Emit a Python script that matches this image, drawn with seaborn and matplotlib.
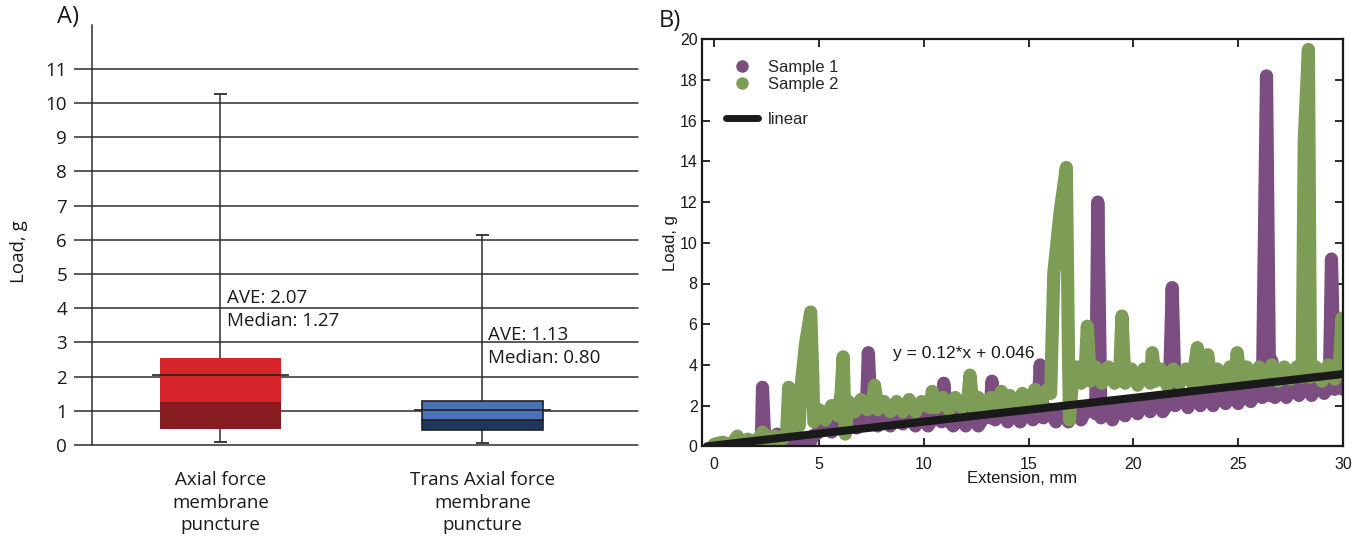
import matplotlib
matplotlib.use("Agg")
import matplotlib.pyplot as plt
import seaborn as sns
import pandas as pd
import numpy as np
from matplotlib.lines import Line2D

# ---------------- Panel A data ----------------
groups = ["Axial force\nmembrane\npuncture", "Trans Axial force\nmembrane\npuncture"]
q1 = [0.47, 0.44]
median = [1.25, 0.74]
q3 = [2.55, 1.28]
whisker_low = [0.10, 0.07]
whisker_high = [10.27, 6.13]
mean_line = [2.05, 1.02]
annotations = ["AVE: 2.07\nMedian: 1.27", "AVE: 1.13\nMedian: 0.80"]
upper_colors = ["#D6242A", "#4A72B9"]
lower_colors = ["#861C1F", "#1E3660"]
yticks_a = list(range(0, 12))

# ---------------- Panel B data ----------------
sample1 = [(0.0, 0.05), (0.4, 0.15), (0.8, 0.05), (1.2, 0.2), (1.6, 0.1), (2.0, 0.3), (2.25, 0.3),
           (2.3, 2.9), (2.4, 0.5), (2.7, 0.3), (3.0, 0.6), (3.3, 0.3), (3.6, 0.5), (3.9, 0.0),
           (4.2, 0.3), (4.5, 0.0), (4.7, 0.5), (5.0, 0.7), (5.3, 1.1), (5.6, 0.7), (5.9, 1.2),
           (6.2, 0.8), (6.5, 1.3), (6.8, 0.9), (7.1, 1.4), (7.25, 1.5), (7.35, 4.6), (7.5, 1.3),
           (7.8, 1.0), (8.1, 1.5), (8.4, 1.0), (8.7, 1.6), (9.0, 1.1), (9.3, 1.5), (9.6, 1.0),
           (9.9, 1.6), (10.2, 1.0), (10.5, 1.5), (10.85, 1.2), (10.95, 3.1), (11.1, 1.4), (11.4, 1.0),
           (11.7, 1.5), (12.0, 1.0), (12.3, 1.6), (12.6, 1.0), (12.9, 1.5), (13.15, 1.4), (13.25, 3.2),
           (13.4, 1.3), (13.7, 1.7), (14.0, 1.2), (14.3, 1.7), (14.6, 1.2), (14.9, 1.8), (15.2, 1.3),
           (15.45, 1.6), (15.55, 4.0), (15.7, 1.4), (16.0, 1.8), (16.3, 1.2), (16.6, 1.8), (16.9, 1.2),
           (17.2, 1.9), (17.5, 1.3), (17.8, 1.9), (18.2, 1.6), (18.3, 12.0), (18.45, 1.4), (18.7, 2.0),
           (19.0, 1.3), (19.3, 2.1), (19.6, 1.5), (19.9, 2.2), (20.2, 1.6), (20.5, 2.3), (20.8, 1.7),
           (21.1, 2.3), (21.4, 1.7), (21.7, 2.2), (21.85, 7.8), (22.0, 2.0), (22.3, 2.6), (22.6, 1.9),
           (22.9, 2.6), (23.2, 2.0), (23.5, 2.7), (23.8, 2.0), (24.1, 2.8), (24.4, 2.1), (24.7, 2.8),
           (25.0, 2.1), (25.3, 2.8), (25.6, 2.2), (25.9, 2.8), (26.15, 2.4), (26.25, 10.3), (26.35, 18.2),
           (26.5, 2.5), (26.6, 4.2), (26.75, 2.4), (27.0, 3.0), (27.3, 2.4), (27.6, 3.0), (27.9, 2.5),
           (28.2, 3.1), (28.5, 2.5), (28.8, 3.2), (29.1, 2.6), (29.35, 3.0), (29.45, 9.2), (29.6, 2.8),
           (29.8, 3.4), (30.0, 2.8)]
sample2 = [(0.0, 0.1), (0.4, 0.2), (0.8, 0.05), (1.1, 0.5), (1.3, 0.15), (1.6, 0.35), (2.0, 0.15),
           (2.3, 0.7), (2.6, 0.3), (2.9, 0.5), (3.2, 0.3), (3.45, 0.6), (3.55, 2.9), (3.7, 0.9),
           (4.05, 1.0), (4.15, 3.0), (4.35, 5.0), (4.6, 6.6), (4.7, 3.4), (4.75, 1.2), (5.0, 1.8),
           (5.3, 1.3), (5.6, 2.0), (5.9, 1.5), (6.05, 2.6), (6.15, 4.4), (6.25, 0.6), (6.4, 2.2),
           (6.7, 1.7), (7.0, 2.3), (7.3, 1.8), (7.55, 2.2), (7.65, 3.0), (7.8, 1.8), (8.1, 2.2),
           (8.4, 1.7), (8.7, 2.2), (9.0, 1.7), (9.3, 2.3), (9.6, 1.7), (9.9, 2.2), (10.3, 1.9),
           (10.4, 2.7), (10.6, 1.9), (10.9, 2.4), (11.2, 1.8), (11.5, 2.4), (11.8, 1.9), (12.1, 2.3),
           (12.2, 3.5), (12.35, 1.9), (12.6, 2.4), (12.9, 1.9), (13.2, 2.4), (13.55, 2.0), (13.7, 2.7),
           (13.85, 2.0), (14.1, 2.5), (14.4, 2.0), (14.7, 2.6), (15.0, 2.1), (15.3, 2.8), (15.6, 2.2),
           (15.9, 2.8), (16.05, 2.6), (16.2, 8.5), (16.5, 11.5), (16.8, 13.7), (16.9, 4.6), (16.95, 1.3),
           (17.1, 3.4), (17.3, 3.9), (17.5, 3.1), (17.7, 3.8), (17.8, 5.9), (17.95, 3.2), (18.2, 3.9),
           (18.5, 3.1), (18.8, 3.9), (19.1, 3.1), (19.35, 3.7), (19.45, 6.4), (19.6, 3.1), (19.9, 3.8),
           (20.2, 3.0), (20.5, 3.8), (20.8, 3.1), (20.9, 4.6), (21.05, 3.2), (21.3, 3.8), (21.6, 3.0),
           (21.9, 3.8), (22.2, 3.1), (22.5, 3.8), (22.8, 3.1), (23.05, 4.85), (23.2, 3.2), (23.4, 3.8),
           (23.55, 4.5), (23.7, 3.1), (24.0, 3.8), (24.3, 3.1), (24.6, 3.9), (24.85, 3.3), (24.95, 4.6),
           (25.1, 3.2), (25.4, 3.9), (25.7, 3.2), (26.0, 3.9), (26.3, 3.3), (26.6, 4.0), (26.9, 3.2),
           (27.2, 3.9), (27.5, 3.3), (27.8, 3.9), (28.05, 3.4), (28.15, 15.0), (28.35, 19.5), (28.45, 3.4),
           (28.7, 3.9), (29.0, 3.2), (29.3, 4.0), (29.6, 3.3), (29.85, 4.3), (29.95, 6.3), (30.0, 4.0)]
linear_x = [-0.35, 30.0]
linear_y = [0.0, 3.55]
equation = "y = 0.12*x + 0.046"
series_labels = ["Sample 1", "Sample 2", "linear"]
series_colors = ["#7B4D80", "#7D9D57", "#1A1A1A"]
xticks_b = [0, 5, 10, 15, 20, 25, 30]
yticks_b = list(range(0, 21, 2))

# ---------------- Figure ----------------
sns.set_theme(style="white")
plt.rcParams['font.family'] = ['Open Sans', 'DejaVu Sans']

W, H = 1371, 546
fig = plt.figure(figsize=(W / 100, H / 100), dpi=100)
axA = fig.add_axes([92 / W, 101 / H, 546 / W, 420 / H])
axB = fig.add_axes([701.7 / W, 99.7 / H, 641.3 / W, 407 / H])

# ---- Panel A ----
grid_c = "#2E2E2E"
pos = np.arange(len(groups))
box_w = 0.46
axA.set_xlim(-0.49, 1.594)
axA.set_ylim(0, 12.28)
for v in yticks_a:
    axA.axhline(v, color=grid_c, lw=1.1, zorder=1, clip_on=False)

axA.vlines(pos, whisker_low, q1, color=grid_c, lw=1.1, zorder=2)
axA.vlines(pos, q3, whisker_high, color=grid_c, lw=1.1, zorder=2)
axA.hlines(whisker_high, pos - 0.025, pos + 0.025, color=grid_c, lw=1.3, zorder=2)
axA.hlines(whisker_low, pos - 0.025, pos + 0.025, color=grid_c, lw=1.3, zorder=2)

lo_h = np.array(median) - np.array(q1)
up_h = np.array(q3) - np.array(median)
axA.bar(pos, lo_h, bottom=q1, width=box_w, color=lower_colors,
        edgecolor=["none", "#222222"], linewidth=[0, 1.2], zorder=3)
axA.bar(pos, up_h, bottom=median, width=box_w, color=upper_colors,
        edgecolor=["none", "#222222"], linewidth=[0, 1.2], zorder=3)
axA.hlines(mean_line, pos - 0.2625, pos + 0.2625, color="#222222", lw=1.2, zorder=4)

ann_dx = [0.027, 0.023]
ann_y = [3.96, 2.88]
for i, txt in enumerate(annotations):
    axA.text(pos[i] + ann_dx[i], ann_y[i], txt, ha="left", va="center",
             fontsize=13.5, linespacing=1.35, color="#1a1a1a", zorder=5)

for s in ["top", "right", "bottom"]:
    axA.spines[s].set_visible(False)
axA.spines["left"].set_color(grid_c)
axA.spines["left"].set_linewidth(1.1)
axA.set_yticks(yticks_a)
axA.set_yticklabels([str(v) for v in yticks_a])
axA.tick_params(axis="y", direction="out", length=13, width=1.1, color=grid_c,
                pad=5, labelsize=13.5, labelcolor="#1a1a1a", left=True)
axA.set_xticks(pos)
axA.set_xticklabels(groups)
axA.tick_params(axis="x", length=0, pad=19, labelsize=13.5, labelcolor="#1a1a1a")
for lab in axA.get_xticklabels():
    lab.set_linespacing(1.3)
axA.set_ylabel("Load, g", fontsize=13.5, color="#1a1a1a")
axA.yaxis.set_label_coords(-0.117, 0.46)

fig.text(57 / W, 1 - 17 / H, "A)", fontsize=17, va="center", ha="left", color="#1a1a1a")
fig.text(659 / W, 1 - 21 / H, "B)", fontsize=17, va="center", ha="left", color="#1a1a1a")

# ---- Panel B ----
hel = "Liberation Sans"
df1 = pd.DataFrame(sample1, columns=["ext", "load"])
df2 = pd.DataFrame(sample2, columns=["ext", "load"])
sns.lineplot(data=df1, x="ext", y="load", sort=False, estimator=None, ax=axB,
             color=series_colors[0], linewidth=9.5, solid_capstyle="round",
             solid_joinstyle="round", zorder=2)
sns.lineplot(data=df2, x="ext", y="load", sort=False, estimator=None, ax=axB,
             color=series_colors[1], linewidth=9.5, solid_capstyle="round",
             solid_joinstyle="round", zorder=3)
sns.lineplot(x=linear_x, y=linear_y, sort=False, estimator=None, ax=axB,
             color=series_colors[2], linewidth=5.8, zorder=4)

axB.set_xlim(-0.6, 30)
axB.set_ylim(0, 20)
axB.set_xticks(xticks_b)
axB.set_yticks(yticks_b)
axB.tick_params(axis="both", which="major", direction="in", length=6, width=1.3,
                color="#1a1a1a", top=True, right=True, bottom=True, left=True,
                labelsize=11.5, labelcolor="#1a1a1a")
axB.tick_params(axis="x", pad=8)
axB.tick_params(axis="y", pad=3)
for lab in axB.get_xticklabels() + axB.get_yticklabels():
    lab.set_fontfamily(hel)
for s in axB.spines.values():
    s.set_visible(True)
    s.set_color("#1a1a1a")
    s.set_linewidth(1.6)
    s.set_zorder(6)
axB.set_xlabel("Extension, mm", fontsize=12, fontfamily=hel, labelpad=-1, color="#1a1a1a")
axB.set_ylabel("Load, g", fontsize=12, fontfamily=hel, labelpad=1, color="#1a1a1a")
axB.text(8.53, 4.58, equation, fontsize=12.5, fontfamily=hel, ha="left", va="center",
         color="#1a1a1a", zorder=5)

h1 = Line2D([], [], marker="o", color="none", markerfacecolor=series_colors[0],
            markeredgecolor="none", markersize=9)
h2 = Line2D([], [], marker="o", color="none", markerfacecolor=series_colors[1],
            markeredgecolor="none", markersize=9)
sp = Line2D([], [], color="none")
h3 = Line2D([], [], color=series_colors[2], lw=5)
axB.legend([h1, h2, sp, h3], [series_labels[0], series_labels[1], "", series_labels[2]],
           loc="upper left", bbox_to_anchor=(0.038, 0.95), frameon=False,
           borderpad=0, borderaxespad=0, handlelength=1.9, handletextpad=0.6,
           labelspacing=0.15, prop={"family": hel, "size": 12})

fig.savefig("out.png", dpi=100)
